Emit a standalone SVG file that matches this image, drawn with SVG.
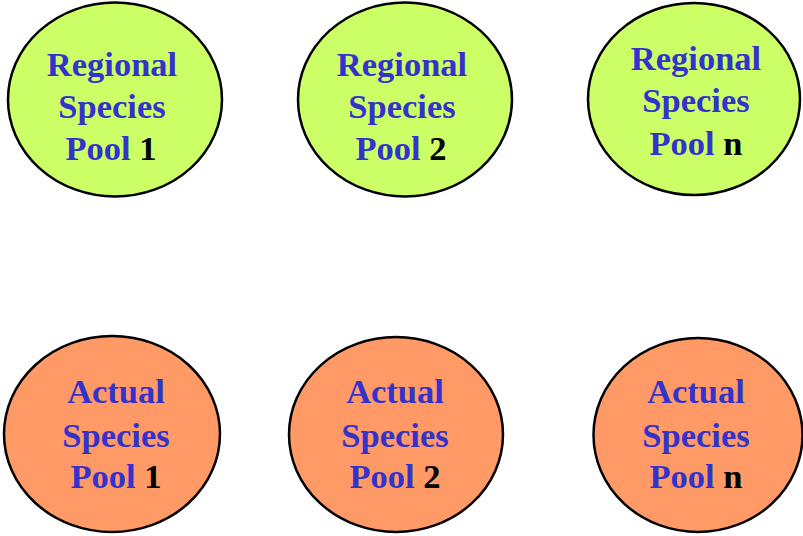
<svg xmlns="http://www.w3.org/2000/svg" width="803" height="536" viewBox="0 0 803 536">
<style>
.reg{fill:#CCFF66;stroke:#000;stroke-width:2.5}
.act{fill:#FF9966;stroke:#000;stroke-width:2.5}
text{font-family:"Liberation Serif","Times New Roman",serif;font-weight:bold;font-size:34.5px;fill:#3333CC;text-anchor:middle}
.k{fill:#000}
</style>
<rect width="803" height="536" fill="#fff"/>
<g id="connectors"></g>
<g id="regional1">
<ellipse class="reg" cx="115" cy="99.5" rx="107" ry="97"/>
<text x="112" y="76">Regional</text>
<text x="112" y="118">Species</text>
<text x="111" y="160">Pool <tspan class="k">1</tspan></text>
</g>
<g id="regional2">
<ellipse class="reg" cx="405" cy="99.5" rx="107" ry="97"/>
<text x="402" y="76">Regional</text>
<text x="402" y="118">Species</text>
<text x="401" y="160">Pool <tspan class="k">2</tspan></text>
</g>
<g id="regionaln">
<ellipse class="reg" cx="694" cy="99" rx="106" ry="96"/>
<text x="696" y="70">Regional</text>
<text x="696" y="112">Species</text>
<text x="696" y="155">Pool <tspan class="k">n</tspan></text>
</g>
<g id="actual1">
<ellipse class="act" cx="112" cy="434" rx="108" ry="98"/>
<text x="116" y="403">Actual</text>
<text x="116" y="447">Species</text>
<text x="116" y="488">Pool <tspan class="k">1</tspan></text>
</g>
<g id="actual2">
<ellipse class="act" cx="396" cy="434.5" rx="107" ry="97.5"/>
<text x="395" y="403">Actual</text>
<text x="395" y="447">Species</text>
<text x="395" y="488">Pool <tspan class="k">2</tspan></text>
</g>
<g id="actualn">
<ellipse class="act" cx="698" cy="435" rx="104.5" ry="97"/>
<text x="696" y="403">Actual</text>
<text x="696" y="447">Species</text>
<text x="696" y="488">Pool <tspan class="k">n</tspan></text>
</g>
</svg>
